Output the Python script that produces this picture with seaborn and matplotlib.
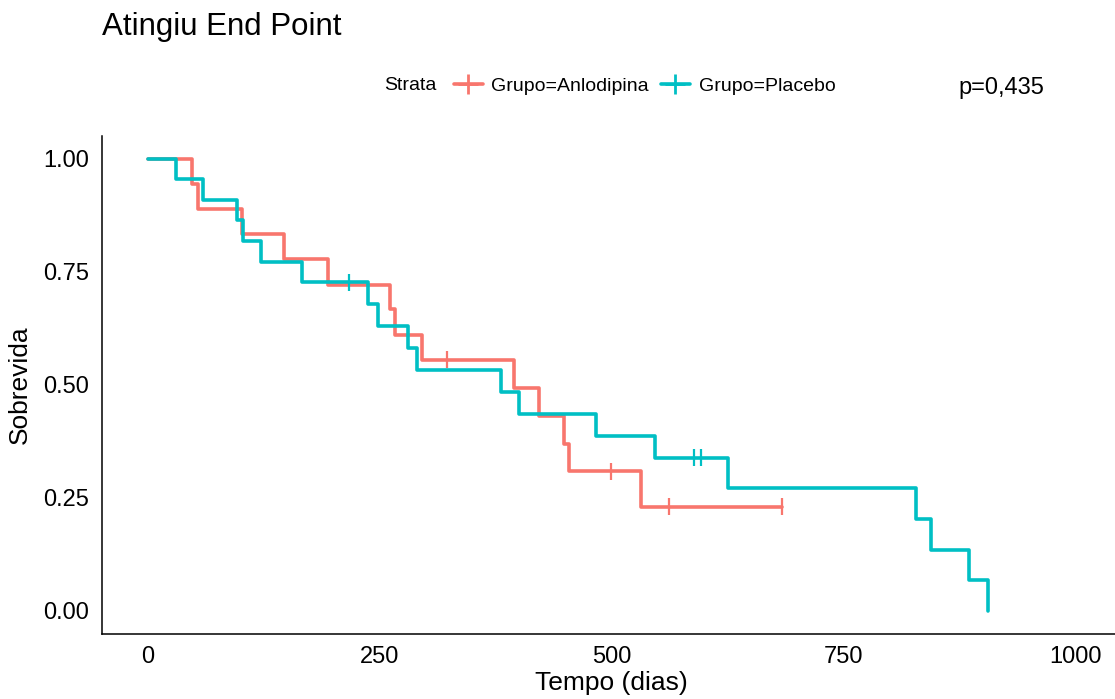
# Kaplan-Meier curves, Anlodipina vs Placebo
import matplotlib
matplotlib.use("Agg")
import matplotlib.pyplot as plt
from matplotlib.lines import Line2D
import seaborn as sns
import numpy as np
import pandas as pd

# step times and survival levels
anlo_time = [0, 47, 54, 101, 147, 194, 261, 266, 295, 395, 422, 449, 454, 532, 683]
anlo_surv = [1.0, 0.944, 0.889, 0.833, 0.778, 0.722, 0.667, 0.611, 0.556,
             0.494, 0.432, 0.370, 0.309, 0.231, 0.231]
anlo_censor = [322, 499, 562, 683]

plac_time = [0, 30, 59, 96, 102, 122, 166, 237, 248, 280, 290, 381, 400,
             483, 547, 625, 828, 844, 885, 906]
plac_surv = [1.0, 0.955, 0.909, 0.864, 0.818, 0.773, 0.727, 0.679, 0.630,
             0.582, 0.533, 0.485, 0.436, 0.388, 0.339, 0.271, 0.203, 0.136,
             0.068, 0.0]
plac_censor = [217, 589, 596]

groups = ["Grupo=Anlodipina", "Grupo=Placebo"]
colors = ["#F8766D", "#00BFC4"]
p_text = "p=0,435"


def surv_at(times, surv, t):
    i = np.searchsorted(times, t, side="right") - 1
    return surv[i]


curves = pd.concat([
    pd.DataFrame({"time": anlo_time, "surv": anlo_surv, "Strata": groups[0]}),
    pd.DataFrame({"time": plac_time, "surv": plac_surv, "Strata": groups[1]}),
])
censors = pd.concat([
    pd.DataFrame({"time": anlo_censor,
                  "surv": [surv_at(anlo_time, anlo_surv, t) for t in anlo_censor],
                  "Strata": groups[0]}),
    pd.DataFrame({"time": plac_censor,
                  "surv": [surv_at(plac_time, plac_surv, t) for t in plac_censor],
                  "Strata": groups[1]}),
])

sns.set_style("white")
plt.rcParams["font.family"] = ["Liberation Sans", "DejaVu Sans"]
plt.rcParams["text.color"] = "black"
plt.rcParams["axes.labelcolor"] = "black"

fig = plt.figure(figsize=(11.15, 6.99), dpi=100)
ax = fig.add_axes([0.0911, 0.0936, 0.9152, 0.7113])

palette = dict(zip(groups, colors))
sns.lineplot(data=curves, x="time", y="surv", hue="Strata", palette=palette,
             estimator=None, sort=False, drawstyle="steps-post", linewidth=2.6,
             legend=False, ax=ax)
sns.scatterplot(data=censors, x="time", y="surv", hue="Strata", palette=palette,
                marker="|", s=150, linewidth=1.6, legend=False, ax=ax, zorder=3)

ax.set_xlim(-50, 1050)
ax.set_ylim(-0.05, 1.05)
ax.set_xticks([0, 250, 500, 750, 1000])
ax.set_yticks([0, 0.25, 0.5, 0.75, 1.0])
ax.set_yticklabels(["0.00", "0.25", "0.50", "0.75", "1.00"])
ax.tick_params(axis="both", labelsize=17, length=5, width=1, colors="black",
               direction="out", pad=4)
ax.set_xlabel("Tempo (dias)", fontsize=19, labelpad=2)
ax.set_ylabel("Sobrevida", fontsize=19, labelpad=8)
for side in ["top", "right"]:
    ax.spines[side].set_visible(False)
for side in ["left", "bottom"]:
    ax.spines[side].set_color("black")
    ax.spines[side].set_linewidth(1.1)

# title, legend and p value
fig.text(102 / 1115, 1 - 27 / 699, "Atingiu End Point", fontsize=22.5,
         va="center", ha="left")
fig.text(384 / 1115, 1 - 86 / 699, "Strata", fontsize=14, va="center", ha="left")
handles = [Line2D([], [], color=c, lw=2.6, marker="+", markersize=14, mew=2)
           for c in colors]
fig.legend(handles, groups, loc="center left", ncol=2, frameon=False,
           bbox_to_anchor=(436 / 1115, 1 - 86 / 699), fontsize=14,
           handlelength=1.5, handletextpad=0.45, columnspacing=0.6)
fig.text(958 / 1115, 1 - 88 / 699, p_text, fontsize=17, va="center", ha="left")

plt.savefig("out.png", dpi=100)
